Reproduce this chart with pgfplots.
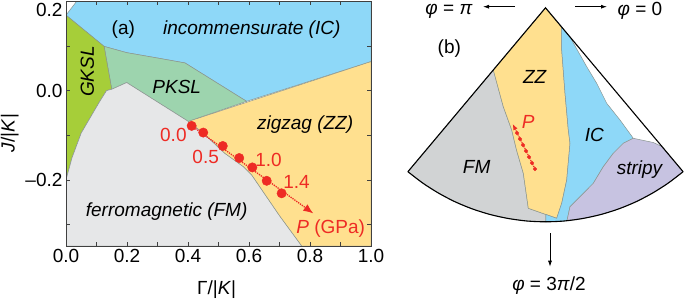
\documentclass[border=0pt]{standalone}
\usepackage{fontspec}
\setmainfont{Liberation Sans}
\usepackage{pgfplots}
\pgfplotsset{compat=1.18}
\usetikzlibrary{arrows.meta}
\definecolor{cIC}{HTML}{8ED8F8}
\definecolor{cGK}{HTML}{A6CE39}
\definecolor{cPK}{HTML}{9DD4AE}
\definecolor{cFMa}{HTML}{E6E7E8}
\definecolor{cFMb}{HTML}{D1D3D4}
\definecolor{cZZ}{HTML}{FFE08F}
\definecolor{cST}{HTML}{C7C3E1}
\definecolor{cRed}{HTML}{EE2B24}
\definecolor{cBd}{HTML}{8A9590}
\begin{document}
\begin{tikzpicture}[font=\fontsize{19}{22}\selectfont]
\useasboundingbox (0,0) rectangle (684pt,300pt);
% ---------------- panel (a) ----------------
\begin{axis}[
  at={(66pt,54pt)}, anchor=south west,
  scale only axis, width=305pt, height=244.7pt,
  xmin=0, xmax=1, ymin=-0.348, ymax=0.2,
  axis on top,
  xtick={0,0.2,0.4,0.6,0.8,1},
  xticklabels={0.0,0.2,0.4,0.6,0.8,1.0},
  minor xtick={0.1,0.3,0.5,0.7,0.9},
  ytick={-0.2,0}, yticklabels={--0.2,0.0},
  extra y ticks={0.2}, extra y tick labels={0.2},
  extra y tick style={yticklabel style={yshift=-9pt}},
  minor ytick={-0.3,-0.1,0.1},
  tick align=inside, major tick length=4pt, minor tick length=4pt,
  tick style={black!75, line width=0.8pt},
  axis line style={black!75, line width=0.9pt},
  ticklabel style={font=\fontsize{19}{22}\selectfont},
  label style={font=\fontsize{19}{22}\selectfont},
  xlabel={Γ/|\textit{K}|}, ylabel={\textit{J}/|\textit{K}|},
  xlabel style={at={(rel axis cs:0.494,-0.18)}, anchor=center},
  ylabel style={at={(rel axis cs:-0.184,0.462)}, anchor=center},
]
\addplot[fill=cIC, draw=cBd, line width=0.5pt] coordinates {(0.035,0.2) (1,0.2) (1,0.065) (0.592,-0.024) (0.39,0.062) (0.308,0.072) (0.199,0.085) (0.125,0.099) (0,0.169)} -- cycle;
\addplot[fill=cPK, draw=cBd, line width=0.5pt] coordinates {(0.125,0.099) (0.199,0.085) (0.308,0.072) (0.39,0.062) (0.592,-0.024) (0.401,-0.069) (0.199,0.018) (0.150,0.003)} -- cycle;
\addplot[fill=cGK, draw=cBd, line width=0.5pt] coordinates {(0,0.169) (0.125,0.099) (0.150,0.003) (0.133,0.0) (0.11,-0.025) (0.08,-0.06) (0.05,-0.095) (0.02,-0.15) (0,-0.2)} -- cycle;
\addplot[fill=cFMa, draw=cBd, line width=0.5pt] coordinates {(0,-0.2) (0.02,-0.15) (0.05,-0.095) (0.08,-0.06) (0.11,-0.025) (0.133,0.0) (0.150,0.003) (0.199,0.018) (0.401,-0.069) (0.45,-0.095) (0.52,-0.14) (0.581,-0.170) (0.609,-0.189) (0.70,-0.28) (0.773,-0.348) (0,-0.348)} -- cycle;
\addplot[fill=cZZ, draw=cBd, line width=0.5pt] coordinates {(0.401,-0.069) (1,0.065) (1,-0.348) (0.773,-0.348) (0.70,-0.28) (0.609,-0.189) (0.581,-0.170) (0.52,-0.14) (0.45,-0.095)} -- cycle;
\addplot[cRed, densely dotted, line width=1.3pt, -{Latex[length=10pt,width=8pt]}] coordinates {(0.412,-0.079) (0.811,-0.275)};
\addplot[only marks, mark=*, mark size=4.7pt, cRed] coordinates {(0.412,-0.079) (0.450,-0.094) (0.514,-0.124) (0.568,-0.151) (0.611,-0.172) (0.658,-0.202) (0.707,-0.230)};
\node at (axis cs:0.188,0.137) {(a)};
\node at (axis cs:0.609,0.137) {\textit{incommensurate (IC)}};
\node[rotate=90] at (axis cs:0.07,0.0425) {\textit{GKSL}};
\node at (axis cs:0.363,0.009) {\textit{PKSL}};
\node at (axis cs:0.784,-0.077) {\textit{zigzag (ZZ)}};
\node at (axis cs:0.33,-0.272) {\textit{ferromagnetic (FM)}};
\node[cRed] at (axis cs:0.352,-0.099) {0.0};
\node[cRed] at (axis cs:0.458,-0.148) {0.5};
\node[cRed] at (axis cs:0.664,-0.155) {1.0};
\node[cRed] at (axis cs:0.756,-0.204) {1.4};
\node[cRed] at (axis cs:0.868,-0.310) {\textit{P} (GPa)};
\end{axis}
% ---------------- panel (b) ----------------
\begin{axis}[
  at={(400pt,0pt)}, anchor=south west,
  scale only axis, width=284pt, height=300pt,
  xmin=400, xmax=684, ymin=0, ymax=300,
  hide axis, clip=false,
]
\addplot[fill=cFMb, draw=cBd, line width=0.5pt] coordinates {(407.9,128.3) (493.3,230.0) (503.3,193.3) (511.7,170.0) (516.5,150.0) (523.3,126.7) (528.3,91.7) (545.8,85.6) (545.8,78.2) (526.8,79.0) (508.3,81.5) (490.1,85.5) (472.3,91.1) (455.1,98.2) (438.5,106.9) (422.8,116.9)} -- cycle;
\addplot[fill=cZZ, draw=cBd, line width=0.5pt] coordinates {(545.5,292.2) (561.4,273.3) (561.7,250.0) (565.0,206.7) (568.3,170.0) (570.0,156.7) (566.7,120.0) (561.7,96.7) (556.7,81.7) (528.3,91.7) (523.3,126.7) (516.5,150.0) (511.7,170.0) (503.3,193.3) (493.3,230.0)} -- cycle;
\addplot[fill=cIC, draw=cBd, line width=0.5pt] coordinates {(561.4,273.3) (569.8,263.3) (586.7,233.3) (596.7,216.7) (606.7,196.7) (620.0,180.0) (633.3,161.7) (623.3,156.7) (613.3,146.7) (603.3,133.3) (593.3,116.7) (580.0,103.3) (570.0,93.3) (567.0,79.4) (564.2,79.0) (545.8,78.2) (545.8,85.6) (556.7,81.7) (561.7,96.7) (566.7,120.0) (570.0,156.7) (568.3,170.0) (565.0,206.7) (561.7,250.0)} -- cycle;
\addplot[fill=cST, draw=cBd, line width=0.5pt] coordinates {(633.3,161.7) (653.3,157.5) (661.9,153.5) (683.1,128.3) (668.2,116.9) (652.5,106.9) (635.9,98.2) (618.7,91.1) (600.9,85.5) (582.7,81.5) (567.0,79.4) (570.0,93.3) (580.0,103.3) (593.3,116.7) (603.3,133.3) (613.3,146.7) (623.3,156.7)} -- cycle;
\addplot[black, line width=1.1pt] coordinates {(407.9,128.3) (545.5,292.2) (683.1,128.3)};
\addplot[black, line width=1.1pt, smooth] coordinates {(407.9,128.3) (422.8,116.9) (438.5,106.9) (455.1,98.2) (472.3,91.1) (490.1,85.5) (508.3,81.5) (526.8,79.0) (545.5,78.2) (564.2,79.0) (582.7,81.5) (600.9,85.5) (618.7,91.1) (635.9,98.2) (652.5,106.9) (668.2,116.9) (683.1,128.3)};
\addplot[cRed, densely dotted, line width=1.2pt, -{Latex[length=6pt,width=5pt]}] coordinates {(535,131) (512.7,176)};
\addplot[only marks, mark=*, mark size=1.8pt, cRed] coordinates {(535,131) (532,137) (529,143) (526,149) (523,155) (520,161) (517,167)};
\addplot[black, line width=0.8pt, -{Latex[length=6pt,width=4pt]}] coordinates {(515,293.3) (483,293.3)};
\addplot[black, line width=0.8pt, -{Latex[length=6pt,width=4pt]}] coordinates {(575,293.3) (607,293.3)};
\addplot[black, line width=0.8pt, -{Latex[length=6pt,width=4pt]}] coordinates {(550,66.7) (550,33.3)};
\node at (axis cs:449,289) {\textit{φ} = \textit{π}};
\node at (axis cs:640,289) {\textit{φ} = 0};
\node at (axis cs:549,14.5) {\textit{φ} = 3\textit{π}/2};
\node at (axis cs:449.3,251.7) {(b)};
\node at (axis cs:535,222.7) {\textit{ZZ}};
\node[cRed] at (axis cs:528.3,178.3) {\textit{P}};
\node at (axis cs:594.3,165) {\textit{IC}};
\node at (axis cs:476.7,133.3) {\textit{FM}};
\node at (axis cs:640,130) {\textit{stripy}};
\end{axis}
\end{tikzpicture}
\end{document}
